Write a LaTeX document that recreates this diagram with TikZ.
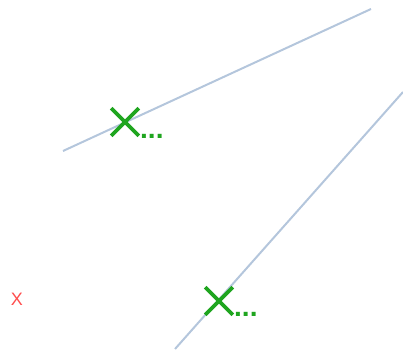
\documentclass[tikz,border=0pt]{standalone}
\usepackage{fontspec}
\setmainfont{Liberation Sans}
\usetikzlibrary{shapes.misc}
\definecolor{linec}{HTML}{B4C6DC}
\definecolor{markc}{HTML}{1FA51F}
\definecolor{redc}{HTML}{FF4D4D}
\tikzset{
  seg/.style={draw=linec, line width=2pt},
  xmark/.style={cross out, draw=markc, line width=3.6pt, minimum size=24pt, inner sep=0pt},
  dots/.style={text=markc, font=\bfseries\fontsize{28}{28}\selectfont, inner sep=0pt, anchor=base west},
  lbl/.style={text=redc, font=\fontsize{18}{18}\selectfont, inner sep=0pt}
}
\begin{document}
\begin{tikzpicture}[x=1pt,y=-1pt]
\useasboundingbox (0,0) rectangle (403,352);
\coordinate (a1) at (63,151);
\coordinate (a2) at (371,9);
\coordinate (b1) at (175,349);
\coordinate (b2) at (403,92);
\draw[seg] (a1) -- (a2);
\draw[seg] (b1) -- (b2);
\node[xmark] (m1) at (125,122) {};
\node[dots] (d1) at (140,139) {...};
\node[xmark] (m2) at (219,301) {};
\node[dots] (d2) at (234,316) {...};
\node[lbl] (x) at (17,299) {X};
\end{tikzpicture}
\end{document}
